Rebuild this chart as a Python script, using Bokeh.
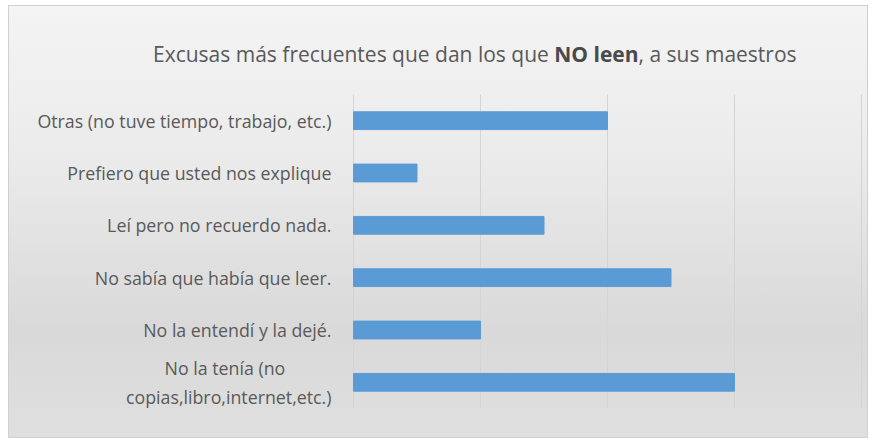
from bokeh.plotting import figure
from bokeh.models import FixedTicker, Div
from bokeh.layouts import column
from bokeh.embed import file_html
from bokeh.resources import INLINE

NB = "\u00a0"
# categories, top to bottom as in the picture (long one wrapped as shown)
categories = [
    "Otras (no tuve tiempo, trabajo, etc.)",
    "Prefiero que usted nos explique",
    "Leí pero no recuerdo nada.",
    "No sabía que había que leer.",
    "No la entendí y la dejé.",
    "No la tenía (no" + NB * 10 + "\ncopias,libro,internet,etc.)",
]
values = [4, 1, 3, 5, 2, 6]
grid_ticks = [0, 2, 4, 6, 8]

title_before = "Excusas más frecuentes que dan los que "
title_bold = "NO leen"
title_after = ", a sus maestros"

FONT = "Open Sans"
TXT = "#595959"
W = 860
TITLE_H = 89
PLOT_H = 344
PAD = 1 / 63.5  # one pixel of data so the end grid lines stay visible

title = Div(
    text=(f'<span style="color:{TXT}">{title_before}</span>'
          f'<b style="color:#4a4a4a">{title_bold}</b>'
          f'<span style="color:{TXT}">{title_after}</span>'),
    width=W, height=TITLE_H, margin=0,
    styles={"font-family": FONT, "font-size": "21px", "padding-left": "145px",
            "padding-top": "34px", "box-sizing": "border-box", "white-space": "nowrap"},
)

p = figure(
    width=W, height=PLOT_H,
    y_range=list(reversed(categories)),
    x_range=(-PAD, 8 + PAD),
    output_backend="svg", toolbar_location=None,
    min_border_left=344, min_border_right=6,
    min_border_top=0, min_border_bottom=30,
    border_fill_alpha=0, background_fill_alpha=0,
    outline_line_color=None,
)

p.hbar(y=categories, right=values, left=0, height=0.34, color="#5b9bd5")

p.xaxis.visible = False
p.xgrid.ticker = FixedTicker(ticks=grid_ticks)
p.xgrid.grid_line_color = "#d4d4d4"
p.ygrid.grid_line_color = None

ya = p.yaxis[0]
ya.axis_line_color = None
ya.major_tick_line_color = None
ya.minor_tick_line_color = None
ya.major_tick_out = 0
ya.major_tick_in = 0
ya.major_label_standoff = 21
ya.major_label_text_font = FONT
ya.major_label_text_font_size = "17.8px"
ya.major_label_text_color = TXT

layout = column(
    title, p, spacing=0, width=W, height=TITLE_H + PLOT_H,
    styles={"background": "linear-gradient(to bottom, #f4f4f4 0%, #ebebeb 35%, #d9d9d9 75%, #dfdfdf 100%)",
            "box-shadow": "inset 0 0 0 1px #d0d0d0",
            "margin-left": "8px", "margin-top": "5px"},
)

open("out.html", "w").write(file_html(layout, INLINE))
